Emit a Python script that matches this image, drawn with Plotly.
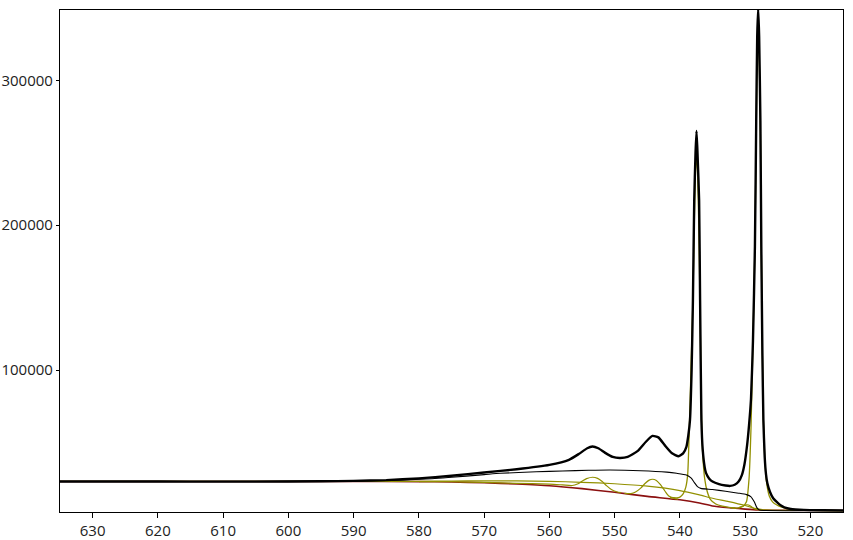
import plotly.graph_objects as go

# ---- measured data (binding energy, counts) ----
data_e = [635, 625, 615, 605, 595, 590, 585, 580, 575, 570, 565, 560, 557, 555.5, 554.2,
          553.4, 552.5, 551.5, 550.3, 549.2, 548, 546.5, 545.2, 544.2, 543.3, 542.3, 541.2,
          540.2, 539.5, 539.0, 538.7, 538.45, 538.2, 538.0, 537.8, 537.6, 537.45, 537.3,
          537.05, 536.9, 536.7, 536.5, 536.2, 536.0, 535.5, 535.0, 534.0, 533.0, 532.3,
          531.6, 531.0, 530.5, 530.1, 529.7, 529.4, 529.1, 528.8, 528.5, 528.3, 528.15,
          528.0, 527.85, 527.66, 527.52, 527.35, 527.2, 527.0, 526.8, 526.6, 526.2, 525.7,
          525.0, 524.5, 524.0, 523.0, 521.0, 518.0, 515]
data_i = [23100, 23100, 23000, 23000, 23200, 23500, 24000, 25200, 27000, 29300, 31500, 34500,
          38000, 42000, 46000, 47200, 46000, 43000, 40000, 39300, 40000, 44000, 50500, 54500,
          53500, 48000, 42500, 40500, 42500, 47000, 55000, 65500, 100000, 148000, 217000,
          250000, 265000, 250000, 217000, 148000, 65500, 45000, 33000, 29000, 25000, 23000,
          21200, 20300, 20000, 20800, 23000, 27500, 35000, 48000, 62000, 80000, 120000,
          185000, 272000, 330000, 350000, 330000, 272000, 185000, 110000, 65500, 40000, 28000,
          22000, 16000, 11500, 8300, 6500, 5200, 4100, 3500, 3200, 3000]

# ---- thin black envelope (background + broad feature) ----
env_e = [635, 590, 583, 578, 575.5, 570, 567.5, 562, 558, 554, 550.7, 546, 542, 540.5, 539,
         538.3, 537.8, 537.3, 536.8, 535, 533, 531, 529.8, 529.1, 528.6, 528.2, 527.8,
         527.0, 515]
env_i = [23100, 23300, 24000, 25000, 25800, 27800, 28700, 29800, 30300, 30800, 31000, 30500,
         29500, 28700, 27500, 25500, 22500, 19500, 18300, 17500, 16300, 15000, 14000, 12500,
         9000, 5000, 3300, 3000, 3000]

# ---- Shirley-type background (dark red) ----
bg_e = [635, 590, 580, 575, 570, 565, 560, 555, 550, 545, 540, 537, 535, 532, 530, 528, 525, 515]
bg_i = [23100, 23100, 23000, 22700, 22200, 21300, 20100, 18100, 15600, 12800, 10400, 8200,
        6200, 4800, 4000, 3400, 3200, 3000]

# ---- broad olive component ----
broad_e = [635, 590, 580, 575, 570, 565, 560, 555, 550, 545, 540, 537, 535, 532.5, 530,
           528.5, 527, 525, 515]
broad_i = [23100, 23100, 23200, 23400, 23500, 23500, 23200, 22500, 21500, 19800, 16800,
           13800, 11500, 9200, 6500, 4500, 3500, 3200, 3000]

# ---- peak components (olive) ----
p1_e = [580, 575, 570, 565, 560, 558, 556.5, 555.7, 555.0, 554.3, 553.4, 552.6, 551.9,
        551.2, 550.5, 549.7, 549.0]
p1_i = [23000, 22900, 22400, 21800, 21200, 20700, 20300, 21300, 23200, 25000, 26000, 25200,
        23000, 20000, 17500, 16000, 15400]

p2_e = [548.5, 547.5, 546.8, 546.0, 545.3, 544.7, 544.2, 543.6, 543.0, 542.3, 541.7, 541.0,
        540.3]
p2_i = [14900, 14700, 15800, 18500, 21800, 24000, 24600, 23800, 21000, 16500, 13000, 11500,
        10900]

p3_e = [541.5, 540.5, 540.0, 539.5, 539.1, 538.8, 538.55, 538.3, 538.0, 537.8, 537.6, 537.45,
        537.3, 537.1, 536.9, 536.7, 536.5, 536.2, 535.8, 535.3, 534.5, 533.5, 532.5, 531.5]
p3_i = [12000, 11800, 12300, 14500, 19000, 28000, 60000, 100000, 148000, 200000, 238000,
        248000, 238000, 200000, 140000, 70000, 42000, 25000, 16000, 10500, 7500, 6000, 5200,
        4800]

p4_e = [531.0, 530.3, 529.8, 529.4, 529.1, 528.8, 528.5, 528.3, 528.15, 528.0, 527.85, 527.66,
        527.52, 527.35, 527.2, 527.0, 526.7, 526.3, 525.8, 525.2, 524.5, 523.5, 522, 520, 515]
p4_i = [4800, 6000, 9000, 25000, 60000, 120000, 185000, 265000, 320000, 338000, 320000,
        265000, 185000, 110000, 65000, 40000, 22000, 13000, 9000, 7000, 5500, 4200, 3500,
        3200, 3000]

p5_e = [532.0, 531.0, 530.5, 530.0, 529.7, 529.3, 528.8, 528.3, 527.5]
p5_i = [4700, 4900, 5800, 6800, 7000, 6500, 4800, 3700, 3400]

x_ticks = [630, 620, 610, 600, 590, 580, 570, 560, 550, 540, 530, 520]
y_ticks = [100000, 200000, 300000]

OLIVE = "#929000"

fig = go.Figure()
fig.add_trace(go.Scatter(x=bg_e, y=bg_i, mode="lines",
                         line=dict(color="#8b1010", width=1.6, shape="spline", smoothing=0.6)))
fig.add_trace(go.Scatter(x=broad_e, y=broad_i, mode="lines",
                         line=dict(color=OLIVE, width=1.2, shape="spline", smoothing=0.6)))
for xe, yi in [(p1_e, p1_i), (p2_e, p2_i), (p5_e, p5_i)]:
    fig.add_trace(go.Scatter(x=xe, y=yi, mode="lines",
                             line=dict(color=OLIVE, width=1.2, shape="spline", smoothing=0.8)))
for xe, yi in [(p3_e, p3_i), (p4_e, p4_i)]:
    fig.add_trace(go.Scatter(x=xe, y=yi, mode="lines",
                             line=dict(color=OLIVE, width=1.3, shape="spline", smoothing=0.5)))
fig.add_trace(go.Scatter(x=env_e, y=env_i, mode="lines",
                         line=dict(color="#000000", width=1.1, shape="spline", smoothing=0.6)))
fig.add_trace(go.Scatter(x=data_e, y=data_i, mode="lines",
                         line=dict(color="#000000", width=2.4, shape="spline", smoothing=0.5)))

fig.update_layout(
    width=853, height=540,
    margin=dict(l=60, r=10, t=10, b=28),
    paper_bgcolor="white", plot_bgcolor="white",
    showlegend=False,
    font=dict(family="Open Sans", size=15, color="#222222"),
)
fig.update_xaxes(range=[635, 515], tickvals=x_ticks, ticks="outside", ticklen=5,
                 tickcolor="black", showline=True, linecolor="black", linewidth=1.2,
                 mirror=True, showgrid=False, zeroline=False, automargin=False)
fig.update_yaxes(range=[2000, 348500], tickvals=y_ticks, tickformat="d", ticks="outside",
                 ticklen=3, tickcolor="black", showline=True, linecolor="black",
                 linewidth=1.2, mirror=True, showgrid=False, zeroline=False,
                 automargin=False)

fig.write_html("out.html", config={"displayModeBar": False},
               post_script="document.body.style.margin='0';")
